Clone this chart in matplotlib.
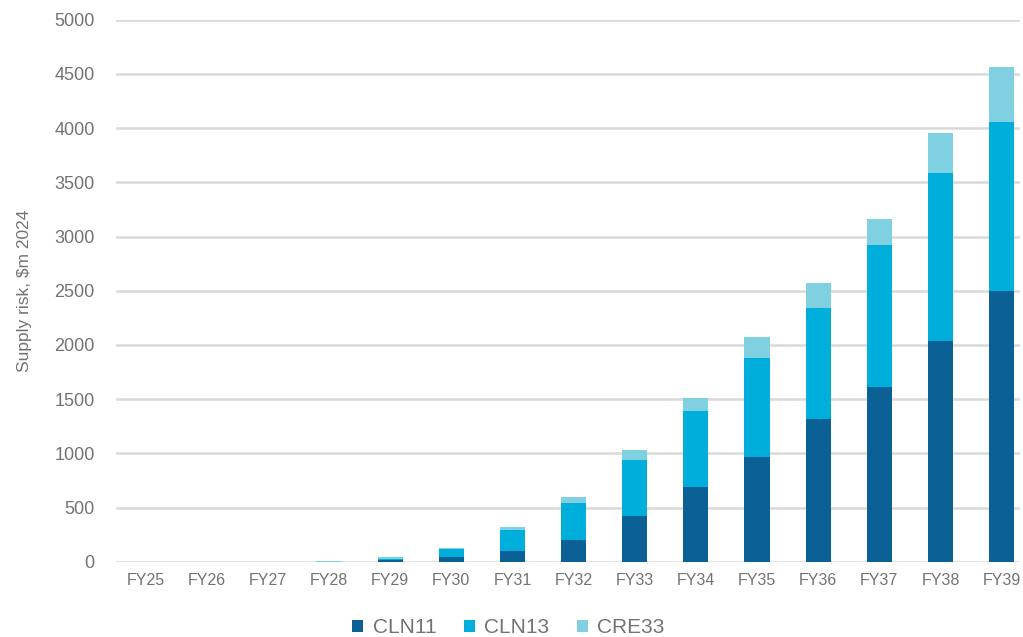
import numpy as np
import matplotlib.pyplot as plt

plt.rcParams['font.family'] = ['Liberation Sans', 'DejaVu Sans']

years = ['FY25', 'FY26', 'FY27', 'FY28', 'FY29', 'FY30', 'FY31', 'FY32',
         'FY33', 'FY34', 'FY35', 'FY36', 'FY37', 'FY38', 'FY39']
cln11 = [0, 0, 0, 0, 16, 40, 102, 197, 426, 694, 966, 1315, 1611, 2040, 2497]
cln13 = [0, 0, 0, 2, 14, 78, 192, 347, 516, 695, 914, 1025, 1309, 1544, 1559]
cre33 = [0, 0, 0, 8, 10, 14, 27, 55, 86, 120, 194, 231, 240, 367, 506]

colors = ['#0b6096', '#00aedb', '#7fd0e1']
grey = '#737373'

fig = plt.figure(figsize=(10.23, 6.37), dpi=100)
ax = fig.add_axes([0.113, 0.118, 0.884, 0.851])

x = np.arange(len(years))
w = 0.41
ax.bar(x, cln11, w, color=colors[0], label='CLN11', zorder=3)
ax.bar(x, cln13, w, bottom=cln11, color=colors[1], label='CLN13', zorder=3)
bottom2 = np.array(cln11) + np.array(cln13)
ax.bar(x, cre33, w, bottom=bottom2, color=colors[2], label='CRE33', zorder=3)

ax.set_ylim(0, 5000)
ax.set_xlim(-0.49, 14.3)
ax.set_yticks(range(0, 5001, 500))
ax.set_xticks(x)
ax.set_xticklabels(years)
ax.yaxis.grid(True, color='#d9d9d9', linewidth=1.8, zorder=0)
ax.set_axisbelow(True)
for s in ax.spines.values():
    s.set_visible(False)
ax.tick_params(axis='both', length=0, colors=grey)
ax.tick_params(axis='y', pad=15, labelsize=13)
ax.tick_params(axis='x', pad=8, labelsize=11.5)
ax.set_ylabel('Supply risk, $m 2024', color=grey, fontsize=12.5, labelpad=16)

fig.legend(loc='lower center', ncol=3, frameon=False, fontsize=15,
           bbox_to_anchor=(0.497, -0.03), handlelength=0.55, handleheight=0.55,
           columnspacing=1.3, handletextpad=0.45, labelcolor=grey)

fig.savefig('out.png', dpi=100)
